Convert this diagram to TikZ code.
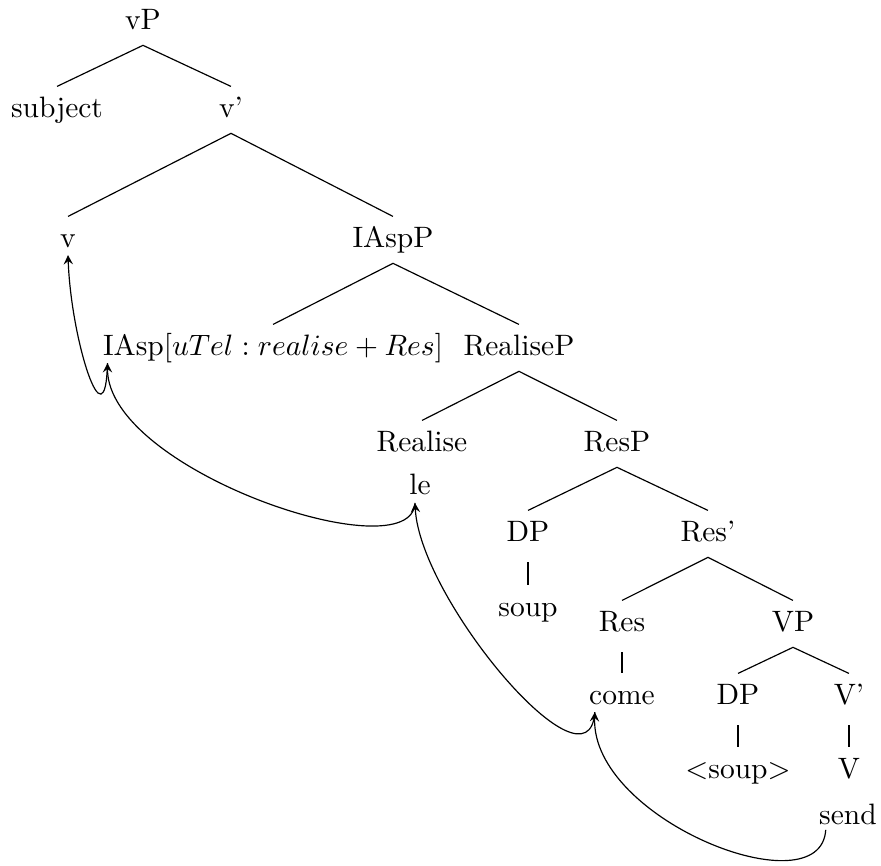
\documentclass[tikz,border=0pt]{standalone}
\begin{document}
\begin{tikzpicture}[
            x=0.339pt, y=-0.339pt,
            every node/.style={anchor=base, inner sep=3pt, text height=7.5pt, text depth=2pt},
            branch/.style={draw},
            unary/.style={draw, shorten <=1.7pt},
            move/.style={draw, -stealth}
        ]
        \useasboundingbox (0,0) rectangle (881,866);
        % tree nodes, placed at their baselines
        \node (vP) at (143,30) {vP};
        \node (subj) at (57,118) {subject};
        \node (vbar) at (231,118) {v'};
        \node (v) at (68,248) {v};
        \node (IAspP) at (393,248) {IAspP};
        \node (IAsp) at (273,356) {IAsp[$uTel:realise+Res$]};
        \node (RealiseP) at (519,356) {RealiseP};
        \node (Realise) at (422,452) {Realise};
        \node (le) at (420,495) {le};
        \node (ResP) at (617,452) {ResP};
        \node (DP) at (528,542) {DP};
        \node (soup) at (528,617) {soup};
        \node (Resbar) at (708,542) {Res'};
        \node (Res) at (622,632) {Res};
        \node (come) at (622,705) {come};
        \node (VP) at (793,632) {VP};
        \node (DPlow) at (738,705) {DP};
        \node (soupcopy) at (738,779) {$<$soup$>$};
        \node (Vbar) at (849,705) {V'};
        \node (V) at (849,779) {V};
        \node (send) at (848,824) {send};
        % branches
        \draw[branch] (subj.north) -- (vP.south) -- (vbar.north);
        \draw[branch] (v.north) -- (vbar.south) -- (IAspP.north);
        \draw[branch] (IAsp.north) -- (IAspP.south) -- (RealiseP.north);
        \draw[branch] (Realise.north) -- (RealiseP.south) -- (ResP.north);
        \draw[branch] (DP.north) -- (ResP.south) -- (Resbar.north);
        \draw[branch] (Res.north) -- (Resbar.south) -- (VP.north);
        \draw[branch] (DPlow.north) -- (VP.south) -- (Vbar.north);
        \draw[unary] (DP.south) -- (soup.north);
        \draw[unary] (Res.south) -- (come.north);
        \draw[unary] (DPlow.south) -- (soupcopy.north);
        \draw[unary] (Vbar.south) -- (V.north);
        % head movement
        \draw[move] ([xshift=5.4pt,yshift=-2pt]send.base west) .. controls +(-5,80) and +(-4,108) .. ([xshift=5.1pt,yshift=-2.4pt]come.base west);
        \draw[move] ([xshift=5.1pt,yshift=-2.4pt]come.base west) .. controls +(-6,88) and +(5,97) .. ([xshift=-1.7pt,yshift=-2.7pt]le.base);
        \draw[move] ([xshift=-1.7pt,yshift=-2.7pt]le.base) .. controls +(-3,70) and +(0,108) .. ([xshift=4.7pt,yshift=-2.4pt]IAsp.base west);
        \draw[move] ([xshift=4.7pt,yshift=-2.4pt]IAsp.base west) .. controls +(-2,85) and +(3,85) .. ([yshift=-2.4pt]v.base);
    \end{tikzpicture}
\end{document}
